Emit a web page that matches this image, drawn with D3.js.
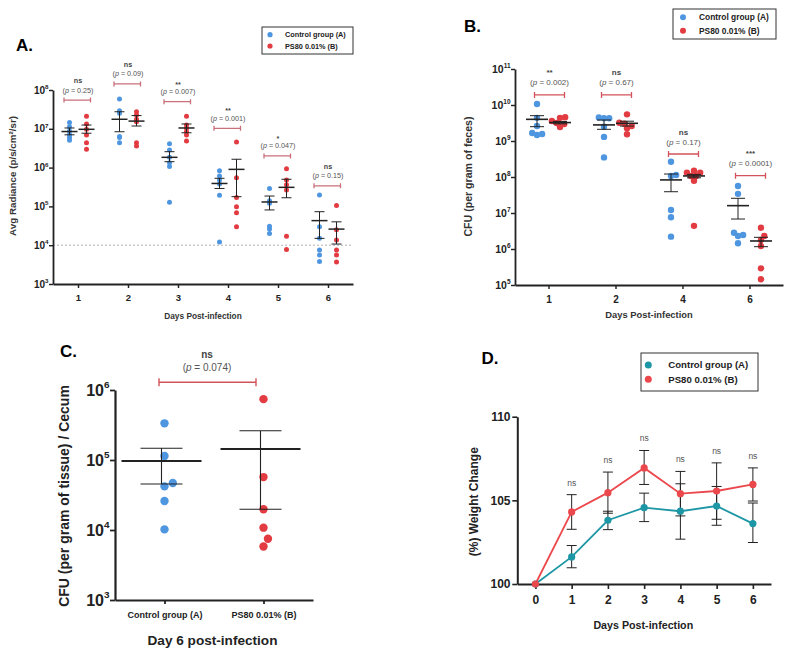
<!DOCTYPE html>
<html><head><meta charset="utf-8">
<script src="https://cdn.jsdelivr.net/npm/d3@7"></script>
<style>body{margin:0;background:#fff}svg{display:block;font-family:"Liberation Sans",Arial,sans-serif}</style>
</head><body><script>
// ================= DATA =================
const groupNames = ["Control group (A)", "PS80 0.01% (B)"];

// ---- Panel A: IVIS average radiance ----
const daysA = [1, 2, 3, 4, 5, 6];
const radCtrl = [
  [1.45e7, 1.13e7, 8.8e6, 7.0e6, 6.0e6, 5.1e6],
  [5.9e7, 2.9e7, 2.5e7, 6.3e6, 6.0e6, 4.4e6],
  [4.1e6, 2.84e6, 1.84e6, 1.34e6, 1.06e6, 1.28e5],
  [8.3e5, 6.1e5, 4.8e5, 3.8e5, 1.93e5, 1.21e4],
  [2.9e5, 1.4e5, 1.2e5, 3.1e4, 2.6e4, 2.0e4],
  [1.97e5, 3.0e4, 1.5e4, 7.5e3, 5.6e3, 3.8e3]
];
const radPS80 = [
  [2.1e7, 1.33e7, 9.7e6, 6.9e6, 4.4e6, 2.95e6],
  [2.75e7, 2.27e7, 1.76e7, 1.52e7, 4.4e6, 3.6e6],
  [2.1e7, 1.25e7, 1.03e7, 8.4e6, 6.9e6, 4.85e6],
  [4.6e6, 5.5e5, 1.7e5, 9.8e4, 6.9e4, 3.0e4],
  [9.4e5, 4.8e5, 3.6e5, 2.65e5, 1.7e4, 7.8e3],
  [1.05e5, 2.5e4, 1.36e4, 7.5e3, 5.6e3, 3.7e3]
];
const radCtrlMean = [8.5e6, 1.76e7, 1.84e6, 3.9e5, 1.3e5, 4.3e4];
const radCtrlHi   = [1.05e7, 2.75e7, 2.57e6, 5.3e5, 1.85e5, 7.3e4];
const radCtrlLo   = [7.0e6, 8.4e6, 1.42e6, 2.9e5, 8.1e4, 1.5e4];
const radPS80Mean = [9.7e6, 1.58e7, 1.05e7, 9.0e5, 3.1e5, 2.6e4];
const radPS80Hi   = [1.25e7, 2.19e7, 1.33e7, 1.64e6, 5.0e5, 4.0e4];
const radPS80Lo   = [7.7e6, 1.18e7, 7.9e6, 1.78e5, 1.67e5, 1.07e4];
const pA   = ["0.25", "0.09", "0.007", "0.001", "0.047", "0.15"];
const sigA = ["ns", "ns", "**", "**", "*", "ns"];
const bracketA = [5.5e7, 1.43e8, 5.0e7, 1.03e7, 2.0e6, 3.4e5];
const detectionLimitA = 1e4;
const ticksA = [1e3, 1e4, 1e5, 1e6, 1e7, 1e8];

// ---- Panel B: CFU per gram of feces ----
const daysB = ["1", "2", "4", "6"];
const cfuCtrl = [
  [1.07e10, 4.4e9, 2.6e9, 1.67e9, 1.57e9, 1.47e9],
  [4.5e9, 4.3e9, 4.3e9, 2.5e9, 1.3e9, 3.5e8],
  [2.66e8, 1.14e8, 1.07e8, 1.21e7, 7.6e6, 2.2e6],
  [5.6e7, 3.4e7, 2.84e6, 2.45e6, 2.3e6, 1.44e6]
];
const cfuPS80 = [
  [4.6e9, 4.4e9, 3.6e9, 3.16e9, 2.97e9, 2.45e9],
  [5.5e9, 3.2e9, 3.0e9, 2.6e9, 2.25e9, 1.54e9],
  [1.5e8, 1.32e8, 1.32e8, 1.07e8, 1.07e8, 7.9e7, 4.4e6],
  [3.9e6, 2.3e6, 1.78e6, 1.21e6, 2.9e5, 1.44e5]
];
const cfuCtrlMean = [4.0e9, 2.8e9, 8.3e7, 1.6e7];
const cfuCtrlHi   = [5.05e9, 3.83e9, 1.21e8, 2.56e7];
const cfuCtrlLo   = [2.5e9, 2.11e9, 3.9e7, 6.8e6];
const cfuPS80Mean = [3.25e9, 3.1e9, 1.07e8, 1.67e6];
const cfuPS80Hi   = [3.5e9, 3.55e9, 1.18e8, 2.11e6];
const cfuPS80Lo   = [3.0e9, 2.6e9, 9.5e7, 1.16e6];
const pB   = ["0.002", "0.67", "0.17", "0.0001"];
const sigB = ["**", "ns", "ns", "***"];
const bracketB = [1.9e10, 1.9e10, 4.35e8, 1.09e8];
const ticksB = [1e5, 1e6, 1e7, 1e8, 1e9, 1e10, 1e11];

// ---- Panel C: CFU per gram of cecum tissue, day 6 ----
const cecumCtrl = [3.34e5, 1.14e5, 4.7e4, 4.2e4, 2.6e4, 1.02e4];
const cecumPS80 = [7.4e5, 5.7e4, 1.98e4, 1.08e4, 7.5e3, 5.8e3];
const cecumMean = [9.7e4, 1.44e5];
const cecumHi   = [1.47e5, 2.62e5];
const cecumLo   = [4.54e4, 1.98e4];
const pC = "0.074", sigC = "ns", bracketC = 1.29e6;
const ticksC = [1e3, 1e4, 1e5, 1e6];

// ---- Panel D: weight change ----
const daysD = [0, 1, 2, 3, 4, 5, 6];
const weightCtrl   = [100, 101.62, 103.81, 104.56, 104.35, 104.66, 103.61];
const weightCtrlHi = [100, 102.30, 104.35, 105.43, 105.99, 105.83, 104.84];
const weightCtrlLo = [100, 100.97, 103.25, 103.73, 102.68, 103.51, 102.48];
const weightPS80   = [100, 104.31, 105.46, 106.94, 105.40, 105.56, 105.95];
const weightPS80Hi = [100, 105.34, 106.69, 107.98, 106.73, 107.24, 106.94];
const weightPS80Lo = [100, 103.27, 104.23, 105.95, 104.07, 103.87, 104.96];
const sigD = ["", "ns", "ns", "ns", "ns", "ns", "ns"];
const ticksDy = [100, 105, 110];

// ================= DRAWING =================
const BLUE = "#4f96e0", RED = "#e23b41", TEAL = "#1d97a5", REDD = "#eb484d";
const BRACKET_A = "#c9707a", BRACKET_B = "#d2535a";
const INK = "#222";

const svg = d3.select("body").append("svg").attr("width", 795).attr("height", 659);

function styleAxis(g, sw) {
  g.select(".domain").attr("stroke", INK).attr("stroke-width", sw);
  g.selectAll(".tick line").attr("stroke", INK).attr("stroke-width", sw * 0.8);
  g.selectAll(".tick text").attr("fill", INK).attr("font-weight", "bold")
    .attr("font-family", '"Liberation Sans", Arial, sans-serif');
}
function powLabels(g, scale, vals, x, fs) {
  vals.forEach(v => {
    const t = g.append("text").attr("x", x).attr("y", scale(v)).attr("dy", "0.35em")
      .attr("text-anchor", "end").attr("font-weight", "bold").attr("font-size", fs).attr("fill", INK);
    t.append("tspan").text("10");
    t.append("tspan").attr("dy", -fs * 0.45).attr("font-size", fs * 0.62).text(Math.round(Math.log10(v)));
  });
}
function pLabel(g, x, y, p, fs, col) {
  const t = g.append("text").attr("x", x).attr("y", y).attr("text-anchor", "middle")
    .attr("font-size", fs).attr("fill", col || "#555");
  t.append("tspan").text("(");
  t.append("tspan").attr("font-style", "italic").text("p");
  t.append("tspan").text(" = " + p + ")");
}
function bracket(g, x1, x2, y, col, sw, capH) {
  g.append("path").attr("d", `M${x1},${y - capH}V${y + capH}M${x1},${y}H${x2}M${x2},${y - capH}V${y + capH}`)
    .attr("stroke", col).attr("stroke-width", sw).attr("fill", "none");
}
function meanErr(g, cx, yM, yLo, yHi, halfW, capW, swMean, swErr) {
  g.append("path").attr("d", `M${cx},${yHi}V${yLo}M${cx - capW},${yHi}H${cx + capW}M${cx - capW},${yLo}H${cx + capW}`)
    .attr("stroke", INK).attr("stroke-width", swErr).attr("fill", "none");
  g.append("line").attr("x1", cx - halfW).attr("x2", cx + halfW).attr("y1", yM).attr("y2", yM)
    .attr("stroke", INK).attr("stroke-width", swMean);
}
function swarm(vals, yScale, cx, minD) {
  const pts = vals.map(v => ({ v, y: yScale(v) })).sort((a, b) => b.y - a.y);
  const placed = [];
  pts.forEach(p => {
    const cands = [0];
    placed.forEach(q => {
      const dy = Math.abs(q.y - p.y);
      if (dy < minD) { const dx = Math.sqrt(minD * minD - dy * dy); cands.push(q.dx + dx, q.dx - dx); }
    });
    cands.sort((a, b) => Math.abs(a) - Math.abs(b));
    let best = 0;
    for (const c of cands) {
      if (placed.every(q => Math.hypot(q.dx - c, q.y - p.y) >= minD - 1e-6)) { best = c; break; }
    }
    p.dx = best; placed.push(p);
  });
  return pts.map(p => ({ v: p.v, y: p.y, x: cx + p.dx }));
}
function legend(g, x0, y0, w, h, dotX, ys, textX, r, fs, cols) {
  g.append("rect").attr("x", x0).attr("y", y0).attr("width", w).attr("height", h)
    .attr("fill", "#fff").attr("stroke", "#333").attr("stroke-width", 1);
  groupNames.forEach((n, i) => {
    g.append("circle").attr("cx", dotX).attr("cy", ys[i]).attr("r", r).attr("fill", cols[i]);
    g.append("text").attr("x", textX).attr("y", ys[i]).attr("dy", "0.35em").attr("font-size", fs)
      .attr("font-weight", "bold").attr("fill", INK).text(n);
  });
}
function panelTitle(t, x, y) {
  svg.append("text").attr("x", x).attr("y", y).attr("font-size", 17).attr("font-weight", "bold").attr("fill", "#000").text(t);
}

// ---------- Panel A ----------
{
  const g = svg.append("g");
  const x = d3.scaleLinear().domain([0.5, 6.5]).range([53, 353]);
  const y = d3.scaleLog().domain([1e3, 1e8]).range([284, 90]);
  const off = 0.17;
  g.append("line").attr("x1", x.range()[0]).attr("x2", x.range()[1])
    .attr("y1", y(detectionLimitA)).attr("y2", y(detectionLimitA))
    .attr("stroke", "#9a9a9a").attr("stroke-width", 0.8).attr("stroke-dasharray", "2,2");
  const gx = g.append("g").attr("transform", "translate(0,284)")
    .call(d3.axisBottom(x).tickValues(daysA).tickFormat(d3.format("d")).tickSize(4).tickSizeOuter(0));
  gx.selectAll(".tick text").attr("font-size", 9.5).attr("dy", "1.1em");
  styleAxis(gx, 1.8);
  const gy = g.append("g").attr("transform", "translate(53,0)")
    .call(d3.axisLeft(y).tickValues(ticksA).tickFormat("").tickSize(4).tickSizeOuter(0));
  styleAxis(gy, 1.8);
  powLabels(g, y, ticksA, 48.5, 10);

  daysA.forEach((d, i) => {
    [[radCtrl[i], BLUE, -off], [radPS80[i], RED, off]].forEach(([vals, col, o]) => {
      g.selectAll(null).data(vals).enter().append("circle")
        .attr("cx", x(d + o)).attr("cy", v => y(v)).attr("r", 2.5).attr("fill", col);
    });
    meanErr(g, x(d - off), y(radCtrlMean[i]), y(radCtrlLo[i]), y(radCtrlHi[i]), 8, 5, 1.5, 1);
    meanErr(g, x(d + off), y(radPS80Mean[i]), y(radPS80Lo[i]), y(radPS80Hi[i]), 8, 5, 1.5, 1);
    const by = y(bracketA[i]);
    bracket(g, x(d) - 14, x(d) + 12.5, by, BRACKET_A, 1.3, 2.5);
    pLabel(g, x(d), by - 7.5, pA[i], 7.2, "#555");
    g.append("text").attr("x", x(d)).attr("y", sigA[i] === "ns" ? by - 17 : by - 15)
      .attr("text-anchor", "middle").attr("font-size", 7.2).attr("font-weight", "bold").attr("fill", "#444").text(sigA[i]);
  });

  g.append("text").attr("transform", "translate(12.5,176) rotate(-90)").attr("text-anchor", "middle")
    .attr("dy", "0.35em").attr("font-size", 9.8).attr("font-weight", "bold").attr("fill", "#333")
    .text("Avg Radiance (p/s/cm²/sr)");
  g.append("text").attr("x", 203).attr("y", 319).attr("text-anchor", "middle")
    .attr("font-size", 8.3).attr("font-weight", "bold").attr("fill", "#333").text("Days Post-infection");
  legend(g, 262, 27, 91, 27, 270, [34.7, 46], 285, 2.6, 7.3, [BLUE, RED]);
  panelTitle("A.", 16, 51);
}

// ---------- Panel B ----------
{
  const g = svg.append("g");
  const x = d3.scalePoint().domain(daysB).range([515, 783]).padding(0.5);
  const y = d3.scaleLog().domain([1e5, 1e11]).range([285, 69]);
  const off = 11.5;
  const gx = g.append("g").attr("transform", "translate(0,285)")
    .call(d3.axisBottom(x).tickSize(4).tickSizeOuter(0));
  gx.selectAll(".tick text").attr("font-size", 10).attr("dy", "1.1em");
  styleAxis(gx, 1.8);
  const gy = g.append("g").attr("transform", "translate(515,0)")
    .call(d3.axisLeft(y).tickValues(ticksB).tickFormat("").tickSize(4).tickSizeOuter(0));
  styleAxis(gy, 1.8);
  powLabels(g, y, ticksB, 510.5, 10.5);

  daysB.forEach((d, i) => {
    [[cfuCtrl[i], BLUE, -off], [cfuPS80[i], RED, off]].forEach(([vals, col, o]) => {
      const pts = swarm(vals, y, x(d) + o, 5.2);
      g.selectAll(null).data(pts).enter().append("circle")
        .attr("cx", p => p.x).attr("cy", p => p.y).attr("r", 3.2).attr("fill", col);
    });
    meanErr(g, x(d) - off, y(cfuCtrlMean[i]), y(cfuCtrlLo[i]), y(cfuCtrlHi[i]), 11, 7, 1.6, 1);
    meanErr(g, x(d) + off, y(cfuPS80Mean[i]), y(cfuPS80Lo[i]), y(cfuPS80Hi[i]), 11, 7, 1.6, 1);
    const by = y(bracketB[i]);
    bracket(g, x(d) - 14, x(d) + 16, by, BRACKET_B, 1.3, 3);
    pLabel(g, x(d) + 1, by - 9.5, pB[i], 8, "#555");
    g.append("text").attr("x", x(d) + 1).attr("y", by - 19.5)
      .attr("text-anchor", "middle").attr("font-size", 8).attr("font-weight", "bold").attr("fill", "#444").text(sigB[i]);
  });

  g.append("text").attr("transform", "translate(468,176.5) rotate(-90)").attr("text-anchor", "middle")
    .attr("dy", "0.35em").attr("font-size", 10.6).attr("font-weight", "bold").attr("fill", "#333")
    .text("CFU (per gram of feces)");
  g.append("text").attr("x", 649).attr("y", 317.5).attr("text-anchor", "middle")
    .attr("font-size", 9.4).attr("font-weight", "bold").attr("fill", "#333").text("Days Post-infection");
  legend(g, 673, 9, 103, 30, 683, [17.3, 30.7], 699, 3, 8.4, [BLUE, RED]);
  panelTitle("B.", 464, 32);
}

// ---------- Panel C ----------
{
  const g = svg.append("g");
  const x = d3.scalePoint().domain(groupNames).range([115, 313]).padding(0.5);
  const y = d3.scaleLog().domain([1e3, 1e6]).range([600, 390]);
  const gx = g.append("g").attr("transform", "translate(0,600)")
    .call(d3.axisBottom(x).tickSize(4).tickSizeOuter(0));
  gx.selectAll(".tick text").attr("font-size", 9).attr("dy", "1.2em");
  styleAxis(gx, 2.2);
  const gy = g.append("g").attr("transform", "translate(115,0)")
    .call(d3.axisLeft(y).tickValues(ticksC).tickFormat("").tickSize(5).tickSizeOuter(0));
  styleAxis(gy, 2.2);
  powLabels(g, y, ticksC, 109.5, 16);

  [[cecumCtrl, BLUE], [cecumPS80, RED]].forEach(([vals, col], i) => {
    const pts = swarm(vals, y, x(groupNames[i]), 9);
    g.selectAll(null).data(pts).enter().append("circle")
      .attr("cx", p => p.x).attr("cy", p => p.y).attr("r", 4.2).attr("fill", col);
    meanErr(g, x(groupNames[i]) - 3, y(cecumMean[i]), y(cecumLo[i]), y(cecumHi[i]), 40, 21, 2, 1.1);
  });
  const by = y(bracketC);
  bracket(g, 159, 256, by, BRACKET_B, 1.4, 4);
  pLabel(g, 207, by - 11, pC, 10, "#555");
  g.append("text").attr("x", 207).attr("y", by - 24).attr("text-anchor", "middle")
    .attr("font-size", 10).attr("font-weight", "bold").attr("fill", "#444").text(sigC);

  g.append("text").attr("transform", "translate(64,496) rotate(-90)").attr("text-anchor", "middle")
    .attr("dy", "0.35em").attr("font-size", 14).attr("font-weight", "bold").attr("fill", "#222")
    .text("CFU (per gram of tissue) / Cecum");
  g.append("text").attr("x", 212.5).attr("y", 645).attr("text-anchor", "middle")
    .attr("font-size", 13.6).attr("font-weight", "bold").attr("fill", "#222").text("Day 6 post-infection");
  panelTitle("C.", 60, 357);
}

// ---------- Panel D ----------
{
  const g = svg.append("g");
  const x = d3.scaleLinear().domain([-0.5, 6.5]).range([517.3, 771]);
  const y = d3.scaleLinear().domain([100, 110]).range([584, 416.7]);
  const gx = g.append("g").attr("transform", "translate(0,584)")
    .call(d3.axisBottom(x).tickValues(daysD).tickFormat(d3.format("d")).tickSize(5).tickSizeOuter(0));
  gx.selectAll(".tick text").attr("font-size", 12).attr("dy", "1em");
  styleAxis(gx, 2);
  const gy = g.append("g").attr("transform", "translate(517.3,0)")
    .call(d3.axisLeft(y).tickValues(ticksDy).tickFormat(d3.format("d")).tickSize(5).tickSizeOuter(0));
  gy.selectAll(".tick text").attr("font-size", 12).attr("dx", "0.1em");
  styleAxis(gy, 2);

  const series = [
    { m: weightCtrl, lo: weightCtrlLo, hi: weightCtrlHi, col: TEAL },
    { m: weightPS80, lo: weightPS80Lo, hi: weightPS80Hi, col: REDD }
  ];
  const line = d3.line().x((d, i) => x(daysD[i])).y(d => y(d));
  series.forEach(s => {
    g.append("path").datum(s.m).attr("d", line).attr("fill", "none").attr("stroke", s.col).attr("stroke-width", 1.8);
  });
  series.forEach(s => {
    daysD.forEach((d, i) => {
      if (s.hi[i] === s.lo[i]) return;
      g.append("path").attr("d", `M${x(d)},${y(s.hi[i])}V${y(s.lo[i])}M${x(d) - 5},${y(s.hi[i])}H${x(d) + 5}M${x(d) - 5},${y(s.lo[i])}H${x(d) + 5}`)
        .attr("stroke", INK).attr("stroke-width", 1).attr("fill", "none");
    });
  });
  series.forEach(s => {
    g.selectAll(null).data(s.m).enter().append("circle")
      .attr("cx", (d, i) => x(daysD[i])).attr("cy", d => y(d)).attr("r", 3.6).attr("fill", s.col);
  });
  daysD.forEach((d, i) => {
    if (!sigD[i]) return;
    const top = Math.max(weightPS80Hi[i], weightCtrlHi[i]);
    g.append("text").attr("x", x(d)).attr("y", y(top) - 9).attr("text-anchor", "middle")
      .attr("font-size", 8.5).attr("fill", "#555").text(sigD[i]);
  });

  g.append("text").attr("transform", "translate(473.3,501.7) rotate(-90)").attr("text-anchor", "middle")
    .attr("dy", "0.35em").attr("font-size", 12).attr("font-weight", "bold").attr("fill", "#222")
    .text("(%) Weight Change");
  g.append("text").attr("x", 643.3).attr("y", 629).attr("text-anchor", "middle")
    .attr("font-size", 10.7).attr("font-weight", "bold").attr("fill", "#222").text("Days Post-infection");
  legend(g, 641, 353, 117, 38, 648.3, [365, 379.3], 668.3, 3.5, 9.6, [TEAL, REDD]);
  panelTitle("D.", 481.5, 363.5);
}
</script></body></html>
